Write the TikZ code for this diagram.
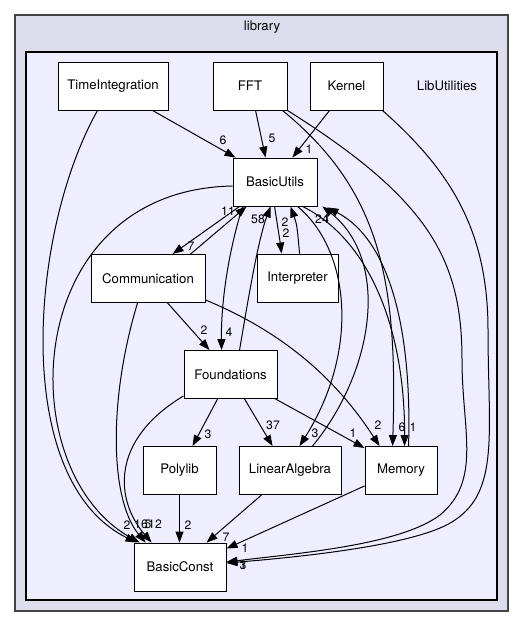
\documentclass[tikz,border=0pt]{standalone}
\usepackage{fontspec}
\setmainfont{TeX Gyre Heros}
\usetikzlibrary{arrows.meta,calc}
\definecolor{outerfill}{HTML}{DDDDEE}
\definecolor{innerfill}{HTML}{EEEEFF}
\definecolor{outerline}{HTML}{444444}
\begin{document}
\begin{tikzpicture}[x=1pt,y=-1pt,
  every node/.style={font=\fontsize{13.2}{15}\selectfont},
  dirbox/.style={draw=black, fill=white, line width=0.9pt, inner sep=0pt, minimum height=48pt},
  dep/.style={draw=black, line width=1pt, -{Triangle[length=11pt,width=8pt]}},
  lab/.style={font=\fontsize{12.2}{14}\selectfont, inner sep=0pt}]
\useasboundingbox (0,0) rectangle (528,628);
\fill[white] (0,0) rectangle (528,628);
\draw[outerline, fill=outerfill, line width=1.6pt] (15,15) rectangle (508,611);
\draw[black, fill=innerfill, line width=1.2pt] (26,52) rectangle (497,600);
\node (libt) at (262,27) {library};
\node (libu) at (447,86) {LibUtilities};

% nodes
\node[dirbox, minimum width=110pt] (ti) at (113,86) {TimeIntegration};
\node[dirbox, minimum width=74pt] (fft) at (250,86) {FFT};
\node[dirbox, minimum width=73pt] (kernel) at (346.5,86) {Kernel};
\node[dirbox, minimum width=84pt] (bu) at (275,182) {BasicUtils};
\node[dirbox, minimum width=114pt] (comm) at (148,278.5) {Communication};
\node[dirbox, minimum width=81pt] (interp) at (297.5,278) {Interpreter};
\node[dirbox, minimum width=93pt] (found) at (230.5,374.5) {Foundations};
\node[dirbox, minimum width=73pt] (poly) at (179.5,470.5) {Polylib};
\node[dirbox, minimum width=102pt] (la) at (290,470.5) {LinearAlgebra};
\node[dirbox, minimum width=72pt] (mem) at (401,470.5) {Memory};
\node[dirbox, minimum width=92pt] (bc) at (180,567) {BasicConst};

% edges
\draw[dep] ($(ti.south west)+(95,0)$) -- ($(bu.north west)+(3,0)$);
\draw[dep] ($(ti.south west)+(40,0)$) .. controls (30,230) and (10,480) .. ($(bc.north west)+(3,0)$);
\draw[dep] ($(fft.south west)+(43,0)$) -- ($(bu.north west)+(33,0)$);
\draw[dep] ($(fft.south east)+(-5,0)$) .. controls (380,190) and (398,280) .. ($(mem.north west)+(28,0)$);
\draw[dep] ($(fft.south east)+(0,0)$) .. controls (430,200) and (462,260) .. (462,360) .. controls (462,430) and (482,480) .. (440,515) .. controls (400,545) and (300,553) .. ($(bc.east)+(0,-5)$);
\draw[dep] ($(kernel.south west)+(20,0)$) -- ($(bu.north east)+(-25,0)$);
\draw[dep] ($(kernel.south east)+(-1,0)$) .. controls (450,170) and (488,230) .. (488,330) .. controls (488,430) and (500,490) .. (455,520) .. controls (420,545) and (300,557) .. ($(bc.east)+(0,-4)$);
\draw[dep] ($(bu.south west)+(7,0)$) -- ($(comm.north west)+(82,0)$);
\draw[dep] ($(comm.north west)+(100,0)$) -- ($(bu.south west)+(14,0)$);
\draw[dep] ($(bu.south west)+(42,0)$) .. controls (278,225) .. ($(interp.north west)+(25,0)$);
\draw[dep] ($(interp.north west)+(43,0)$) .. controls (297,225) .. ($(bu.south west)+(58,0)$);
\draw[dep] ($(bu.south west)+(10,0)$) .. controls (226,260) and (221,310) .. ($(found.north west)+(38,0)$);
\draw[dep] ($(found.north west)+(56,0)$) .. controls (248,300) and (258,240) .. ($(bu.south west)+(38,0)$);
\draw[dep] ($(bu.south west)+(65,0)$) .. controls (350,250) and (360,350) .. ($(la.north west)+(61,0)$);
\draw[dep] ($(la.north west)+(74,0)$) .. controls (375,370) and (390,260) .. ($(bu.south east)+(5,0)$);
\draw[dep] ($(bu.south west)+(70,0)$) .. controls (370,240) and (405,330) .. ($(mem.north west)+(40,0)$);
\draw[dep] ($(mem.north west)+(44,0)$) .. controls (412,330) and (390,240) .. ($(bu.south east)+(10,1)$);
\draw[dep] ($(bu.west)+(0,4)$) .. controls (20,190) and (10,470) .. ($(bc.north west)+(6,0)$);
\draw[dep] ($(comm.south west)+(77,0)$) -- ($(found.north west)+(26,0)$);
\draw[dep] ($(comm.south east)+(0,-3)$) .. controls (290,335) and (340,385) .. ($(mem.north west)+(15,0)$);
\draw[dep] ($(comm.south west)+(47,0)$) .. controls (108,400) and (110,500) .. ($(bc.north west)+(12,0)$);
\draw[dep] ($(found.south west)+(0,-3)$) .. controls (110,440) and (115,500) .. ($(bc.north west)+(18,0)$);
\draw[dep] ($(found.south west)+(34,0)$) -- ($(poly.north west)+(50,0)$);
\draw[dep] ($(found.south west)+(61,0)$) -- ($(la.north west)+(34,0)$);
\draw[dep] ($(found.south east)+(-2,0)$) -- ($(mem.north west)+(0,2)$);
\draw[dep] (poly.south) -- (poly.south |- bc.north);
\draw[dep] ($(la.south west)+(23,0)$) -- ($(bc.north west)+(73,0)$);
\draw[dep] ($(mem.south west)+(0,-9)$) -- ($(bc.north east)+(0,6)$);

% labels
\node[lab] (l1) at (223,140) {6};
\node[lab] (l2) at (127,525) {2};
\node[lab] (l3) at (272,138) {5};
\node[lab] (l4) at (402,427) {6};
\node[lab] (l5) at (413,427) {1};
\node[lab] (l6) at (378,425) {2};
\node[lab] (l7) at (353,433) {1};
\node[lab] (l8) at (315,433) {3};
\node[lab] (l9) at (273,425) {37};
\node[lab] (l10) at (208,434) {3};
\node[lab] (l11) at (188,525) {2};
\node[lab] (l12) at (226,537) {7};
\node[lab] (l13) at (245,548) {1};
\node[lab] (l14) at (243,565) {3};
\node[lab] (l15) at (243,565) {1};
\node[lab] (l16) at (309,149) {1};
\node[lab] (l17) at (191,246) {7};
\node[lab] (l18) at (228,211) {11};
\node[lab] (l19) at (258,219) {58};
\node[lab] (l20) at (285,222) {2};
\node[lab] (l21) at (286,233) {2};
\node[lab] (l22) at (322,219) {24};
\node[lab] (l23) at (327,219) {1};
\node[lab] (l24) at (229,332) {4};
\node[lab] (l25) at (204,330) {2};
\node[lab] (l26) at (141,524) {16};
\node[lab] (l27) at (148,524) {5};
\node[lab] (l28) at (155,524) {12};
\end{tikzpicture}
\end{document}
